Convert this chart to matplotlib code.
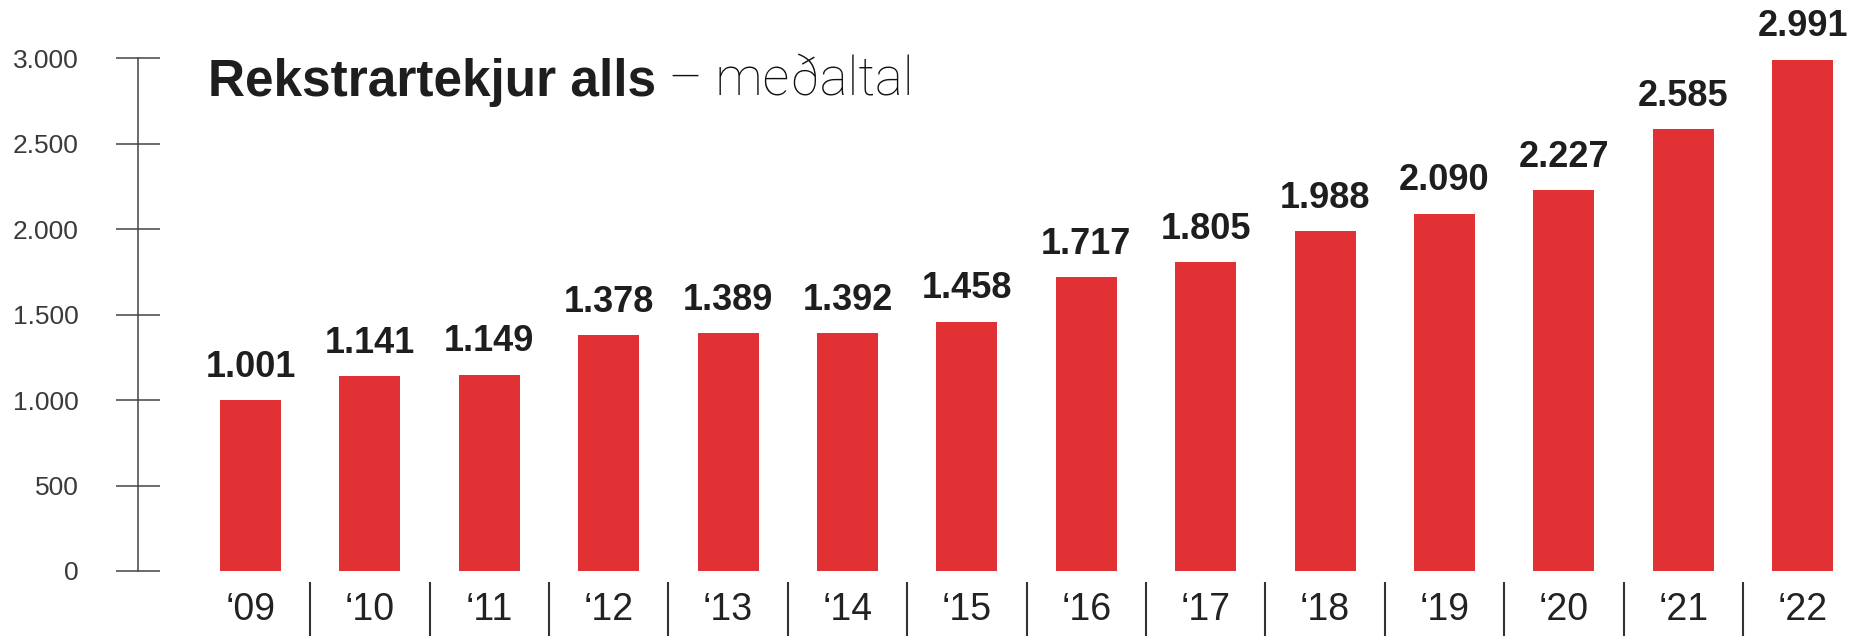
import matplotlib
matplotlib.use("Agg")
import matplotlib.pyplot as plt
import numpy as np

# data
years = ["\u201809", "\u201810", "\u201811", "\u201812", "\u201813", "\u201814", "\u201815",
         "\u201816", "\u201817", "\u201818", "\u201819", "\u201820", "\u201821", "\u201822"]
revenue = [1001, 1141, 1149, 1378, 1389, 1392, 1458, 1717, 1805, 1988, 2090, 2227, 2585, 2991]
yticks = [0, 500, 1000, 1500, 2000, 2500, 3000]

plt.rcParams['font.family'] = ['Liberation Sans', 'DejaVu Sans']
light = dict(family=['Roboto', 'DejaVu Sans'], weight='light')


def isl(v):
    return f"{v:,}".replace(",", ".")


W, H = 1875, 636
fig = plt.figure(figsize=(W / 100, H / 100), dpi=100)
ax = fig.add_axes([137.7 / W, (H - 571) / H, 1 - 137.7 / W, 513 / H])

x = np.arange(len(years))
bars = ax.bar(x, revenue, width=0.51, color='#e23134')
ax.bar_label(bars, labels=[isl(v) for v in revenue], padding=11,
             fontsize=26, fontweight='bold', color='#1e1e1e')

ax.set_xlim(-0.945, 13.606)
ax.set_ylim(0, 3000)

for s in ['top', 'right', 'bottom']:
    ax.spines[s].set_visible(False)
ax.spines['left'].set_color('#444444')
ax.spines['left'].set_linewidth(1.1)

ax.set_yticks(yticks)
ax.set_yticklabels([isl(v) for v in yticks])
ax.tick_params(axis='y', direction='inout', length=31.7, width=1.1, color='#444444',
               pad=26.6, labelsize=19, labelcolor='#3a3a3a')

ax.set_xticks(x)
ax.set_xticklabels(years)
ax.tick_params(axis='x', length=0, pad=15, labelsize=27, labelcolor='#222222')

# separators between years
ax.vlines(x[:-1] + 0.5, -0.0214, -0.13, transform=ax.get_xaxis_transform(),
          clip_on=False, color='#333333', lw=1.5)

# title
t1 = fig.text(208 / W, 1 - 96 / H, "Rekstrartekjur alls", fontsize=37,
              fontweight='bold', color='#1e1e1e', va='baseline')
ax.annotate(" \u2013 me\u00f0altal", xy=(1, 1 - 96 / H), xycoords=(t1, 'figure fraction'),
            fontsize=38, color='#111111', va='baseline', ha='left', **light)

fig.savefig("out.png", dpi=100)
